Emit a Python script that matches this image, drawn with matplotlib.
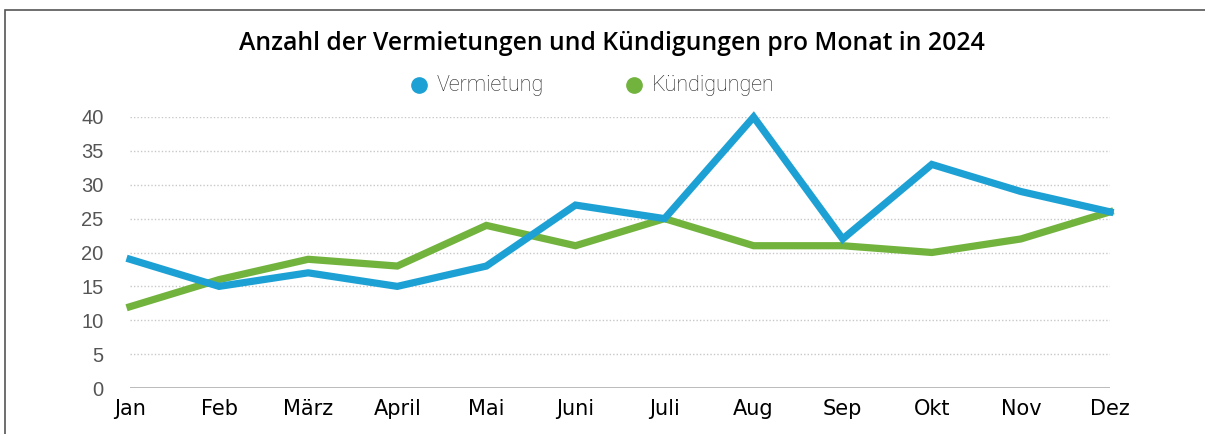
import matplotlib
matplotlib.use('Agg')
from matplotlib import pyplot as plt
from matplotlib.patches import Rectangle
from matplotlib.lines import Line2D

monate = ['Jan', 'Feb', 'März', 'April', 'Mai', 'Juni', 'Juli', 'Aug', 'Sep', 'Okt', 'Nov', 'Dez']
vermietung = [19, 15, 17, 15, 18, 27, 25, 40, 22, 33, 29, 26]
kuendigungen = [12, 16, 19, 18, 24, 21, 25, 21, 21, 20, 22, 26]
y_ticks = [0, 5, 10, 15, 20, 25, 30, 35, 40]

blau = '#1da1d4'
gruen = '#72b33d'

W, H = 1205, 434
fig = plt.figure(figsize=(W / 100, H / 100), dpi=100)
ax = fig.add_axes([130 / W, (H - 388) / H, (1110 - 130) / W, (388 - 117) / H])

x = list(range(len(monate)))
ax.plot(x, kuendigungen, color=gruen, lw=5.2, solid_joinstyle='miter', clip_on=False, zorder=3)
ax.plot(x, vermietung, color=blau, lw=5.2, solid_joinstyle='miter', clip_on=False, zorder=4)

ax.set_xlim(0, 11)
ax.set_ylim(0, 40)
ax.set_yticks(y_ticks)
for t in y_ticks[1:]:
    ax.axhline(t, color='#c8c8c8', lw=1, ls=(0, (1, 1.5)), zorder=1)
ax.axhline(0, color='#b4b4b4', lw=2, zorder=2)

for s in ax.spines.values():
    s.set_visible(False)
ax.tick_params(length=0)
ax.set_xticks(x)
ax.set_xticklabels(monate, fontsize=15, family=['Liberation Sans Narrow', 'DejaVu Sans'], color='#000000')
ax.tick_params(axis='x', pad=8)
ax.set_yticklabels([str(t) for t in y_ticks], fontsize=14.5, family=['Liberation Sans', 'DejaVu Sans'], color='#555555')
ax.tick_params(axis='y', pad=19)

# Rahmen
fig.patches.append(Rectangle((5 / W, -0.1), 1.2, (H - 10) / H + 0.1, transform=fig.transFigure,
                             fill=False, edgecolor='#555555', lw=1.2))

fig.text(612 / W, 1 - 43 / H, 'Anzahl der Vermietungen und Kündigungen pro Monat in 2024',
         ha='center', va='center', fontsize=17.8, family=['Open Sans', 'DejaVu Sans'], weight='semibold')

# Legende
for px, farbe, text in [(419, blau, 'Vermietung'), (634, gruen, 'Kündigungen')]:
    fig.add_artist(Line2D([px / W], [1 - 85 / H], marker='o', color=farbe, markersize=11,
                          transform=fig.transFigure, lw=0))
    fig.text((px + 18) / W, 1 - 85 / H, text, ha='left', va='center', fontsize=15.5,
             family=['Roboto', 'DejaVu Sans'], weight='light', color='#222222')

fig.savefig('out.png', dpi=100)
